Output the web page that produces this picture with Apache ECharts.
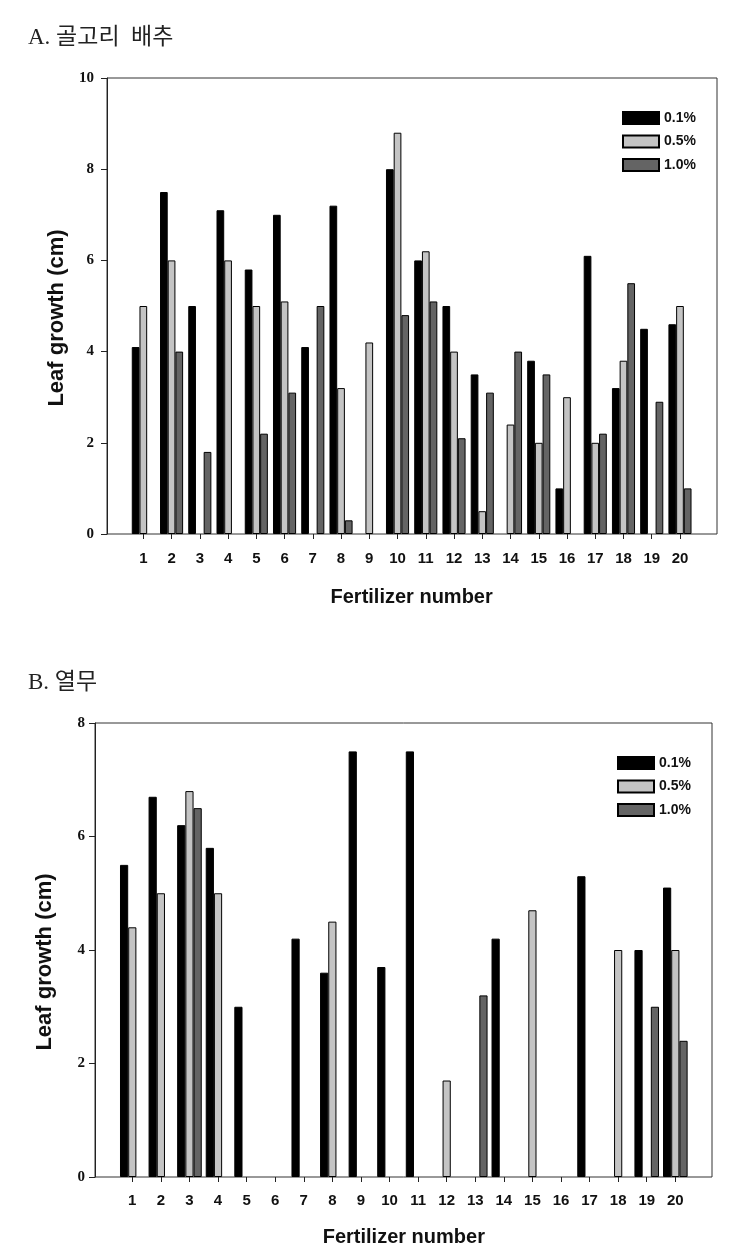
<!DOCTYPE html>
<html>
<head>
<meta charset="utf-8">
<script src="https://cdn.jsdelivr.net/npm/echarts@6/dist/echarts.min.js"></script>
<style>
html,body{margin:0;padding:0;background:#fff;}
#c{width:744px;height:1260px;}
</style>
</head>
<body>
<div id="c"></div>
<script>
// Data
const categories = ['1','2','3','4','5','6','7','8','9','10','11','12','13','14','15','16','17','18','19','20'];
const seriesNames = ['0.1%','0.5%','1.0%'];
// A. 골고리 배추
const a01 = [4.1,7.5,5.0,7.1,5.8,7.0,4.1,7.2,null,8.0,6.0,5.0,3.5,null,3.8,1.0,6.1,3.2,4.5,4.6];
const a05 = [5.0,6.0,null,6.0,5.0,5.1,null,3.2,4.2,8.8,6.2,4.0,0.5,2.4,2.0,3.0,2.0,3.8,null,5.0];
const a10 = [null,4.0,1.8,null,2.2,3.1,5.0,0.3,null,4.8,5.1,2.1,3.1,4.0,3.5,null,2.2,5.5,2.9,1.0];
// B. 열무
const b01 = [5.5,6.7,6.2,5.8,3.0,null,4.2,3.6,7.5,3.7,7.5,null,null,4.2,null,null,5.3,null,4.0,5.1];
const b05 = [4.4,5.0,6.8,5.0,null,null,null,4.5,null,null,null,1.7,null,null,4.7,null,null,4.0,null,4.0];
const b10 = [null,null,6.5,null,null,null,null,null,null,null,null,null,3.2,null,null,null,null,null,3.0,2.4];
const titleA = 'A. 골고리  배추';
const titleB = 'B. 열무';
const xName = 'Fertilizer number';
const yName = 'Leaf growth (cm)';

const colors = ['#000000','#c4c4c4','#646464'];
const sansBold = "'Liberation Sans Narrow','Liberation Sans',Arial,sans-serif";
const sans = "'Liberation Sans',Arial,sans-serif";
const serif = "'Liberation Serif','Times New Roman',serif";
const titleFont = "'Liberation Serif','Noto Sans CJK KR',serif";

const chart = echarts.init(document.getElementById('c'));

function frameY(grid, max, margin, gap) {
  return {
    gridIndex: grid, type: 'value', min: 0, max: max, interval: 2,
    name: yName, nameLocation: 'middle', nameGap: gap,
    nameTextStyle: {fontFamily: sans, fontWeight: 'bold', fontSize: 22, color: '#111', padding: [0, 24, 0, 0]},
    axisLine: {show: true, lineStyle: {color: '#222', width: 1}},
    axisTick: {show: true, inside: false, length: 6, lineStyle: {color: '#222'}},
    axisLabel: {margin: margin, fontFamily: serif, fontWeight: 'bold', fontSize: 15, color: '#111'},
    splitLine: {show: false}
  };
}
function barX(grid, labelMargin, nameGap) {
  return {
    gridIndex: grid, type: 'category', data: categories, boundaryGap: true,
    name: xName, nameLocation: 'middle', nameGap: nameGap,
    nameTextStyle: {fontFamily: sans, fontWeight: 'bold', fontSize: 20, color: '#111'},
    axisLine: {show: false},
    axisTick: {show: true, alignWithLabel: true, length: 5, lineStyle: {color: '#222'}},
    axisLabel: {margin: labelMargin, interval: 0, fontFamily: sansBold, fontWeight: 'bold', fontSize: 15, color: '#111'}
  };
}
function bars(data, i, xi, yi, w) {
  return {
    name: seriesNames[i], type: 'bar', xAxisIndex: xi, yAxisIndex: yi,
    data: data, barWidth: w, barGap: '0%',
    itemStyle: {color: colors[i], borderColor: '#000', borderWidth: 1},
    emphasis: {disabled: true}, animation: false
  };
}
function legend(left, top) {
  return {
    data: seriesNames, orient: 'vertical', left: left, top: top,
    icon: 'rect', itemWidth: 36, itemHeight: 12, itemGap: 9.5,
    textStyle: {fontFamily: sans, fontWeight: 'bold', fontSize: 14, color: '#111', lineHeight: 12},
    selectedMode: false
  };
}

const option = {
  animation: false,
  backgroundColor: '#fff',
  title: [
    {text: titleA, left: 28, top: 26, padding: 0, textStyle: {fontFamily: titleFont, fontSize: 23, fontWeight: 'normal', color: '#222'}},
    {text: titleB, left: 28, top: 671, padding: 0, textStyle: {fontFamily: titleFont, fontSize: 23, fontWeight: 'normal', color: '#222'}}
  ],
  legend: [legend(617, 106), legend(612, 751)],
  grid: [
    {left: 107, top: 78, width: 610, height: 456, show: true, borderColor: '#333', borderWidth: 1, containLabel: false},
    {left: 129.2, top: 78, width: 564.9, height: 456, containLabel: false},
    {left: 95, top: 723, width: 617, height: 454, show: true, borderColor: '#333', borderWidth: 1, containLabel: false},
    {left: 118, top: 723, width: 571.6, height: 454, containLabel: false}
  ],
  xAxis: [
    {gridIndex: 0, type: 'value', show: false, min: 0, max: 1},
    barX(1, 17, 53),
    {gridIndex: 2, type: 'value', show: false, min: 0, max: 1},
    barX(3, 16, 50)
  ],
  yAxis: [
    frameY(0, 10, 13, 39),
    {gridIndex: 1, type: 'value', min: 0, max: 10, show: false},
    frameY(2, 8, 10, 39),
    {gridIndex: 3, type: 'value', min: 0, max: 8, show: false}
  ],
  series: [
    bars(a01, 0, 1, 1, 7.7), bars(a05, 1, 1, 1, 7.7), bars(a10, 2, 1, 1, 7.7),
    bars(b01, 0, 3, 3, 8.2), bars(b05, 1, 3, 3, 8.2), bars(b10, 2, 3, 3, 8.2)
  ]
};
chart.setOption(option);
</script>
</body>
</html>
